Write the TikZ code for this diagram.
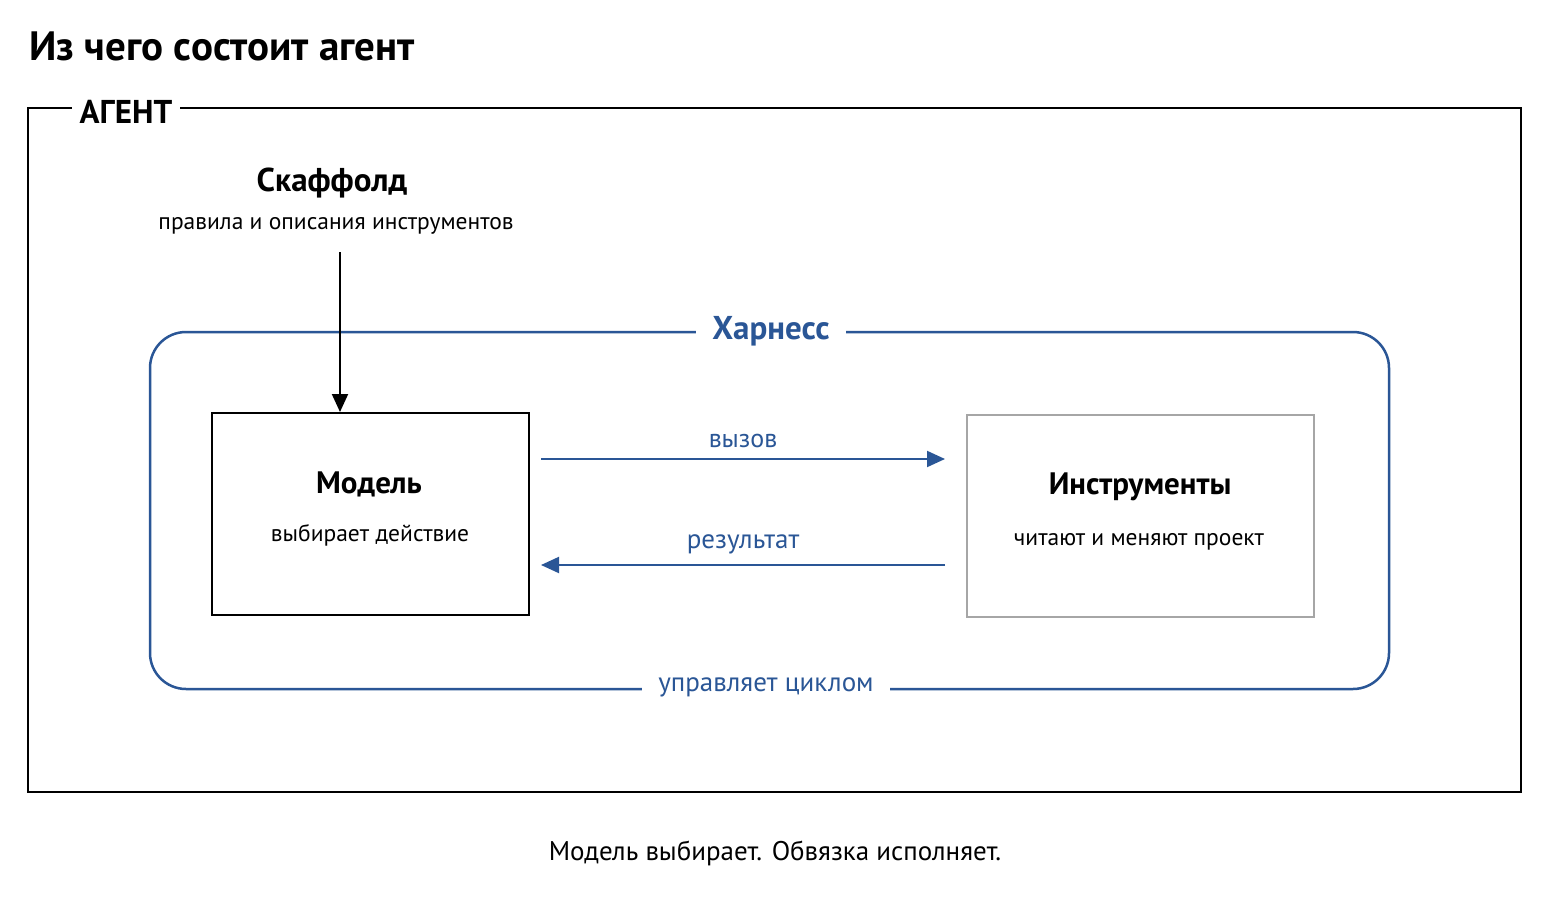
\documentclass[tikz,border=0pt]{standalone}
\usepackage{fontspec}
\setmainfont{PT Sans}
\usetikzlibrary{arrows.meta}
\definecolor{hb}{HTML}{2A5696}
\begin{document}
\begin{tikzpicture}[x=1pt,y=-1pt,
  lab/.style={fill=white,inner xsep=8pt},
  arr/.style={line width=2pt,-{Triangle[length=18pt,width=16pt]}}]
\useasboundingbox (0,0) rectangle (1560,902);
\fill[white] (0,0) rectangle (1560,902);
\node[anchor=base west,font=\bfseries\fontsize{41}{44}\selectfont] (title) at (26,60) {Из чего состоит агент};
\draw[line width=2.5pt] (28,108) rectangle (1521,792);
\node[lab,font=\bfseries\fontsize{33}{36}\selectfont] (agent) at (126,112) {АГЕНТ};
\draw[hb,line width=2.5pt,rounded corners=36pt] (150,332) rectangle (1389,689);
\node[lab,text=hb,inner xsep=16pt,font=\bfseries\fontsize{33}{36}\selectfont] (harn) at (771,331) {Харнесс};
\node[lab,text=hb,inner xsep=16pt,font=\fontsize{27}{30}\selectfont] (loop) at (766,687) {управляет циклом};
\node[anchor=center,font=\bfseries\fontsize{33}{36}\selectfont] (scaf) at (332,183) {Скаффолд};
\node[font=\fontsize{23.5}{26}\selectfont] (scafs) at (336,226) {правила и описания инструментов};
\node[draw,line width=2pt,minimum width=317pt,minimum height=202pt] (model) at (370.5,514) {};
\node[font=\bfseries\fontsize{31}{34}\selectfont] at (369,484) {Модель};
\node[font=\fontsize{23.5}{26}\selectfont] at (370,535) {выбирает действие};
\node[draw=gray!70,line width=2pt,minimum width=347pt,minimum height=202pt] (tools) at (1140.5,516) {};
\node[font=\bfseries\fontsize{31}{34}\selectfont] at (1140,487) {Инструменты};
\node[font=\fontsize{23.5}{26}\selectfont] at (1139,542) {читают и меняют проект};
\coordinate (s0) at (340,252);
\coordinate (a1) at (541,459); \coordinate (a2) at (945,459);
\coordinate (b1) at (945,565); \coordinate (b2) at (541,565);
\draw[arr] (s0) -- (model.north -| s0);
\draw[arr,hb] (a1) -- node[above=7pt,font=\fontsize{26}{28}\selectfont]{вызов} (a2);
\draw[arr,hb] (b1) -- node[above=7pt,font=\fontsize{27}{29}\selectfont]{результат} (b2);
\node[font=\fontsize{27}{30}\selectfont] (cap) at (775,853) {Модель выбирает. Обвязка исполняет.};
\end{tikzpicture}
\end{document}
